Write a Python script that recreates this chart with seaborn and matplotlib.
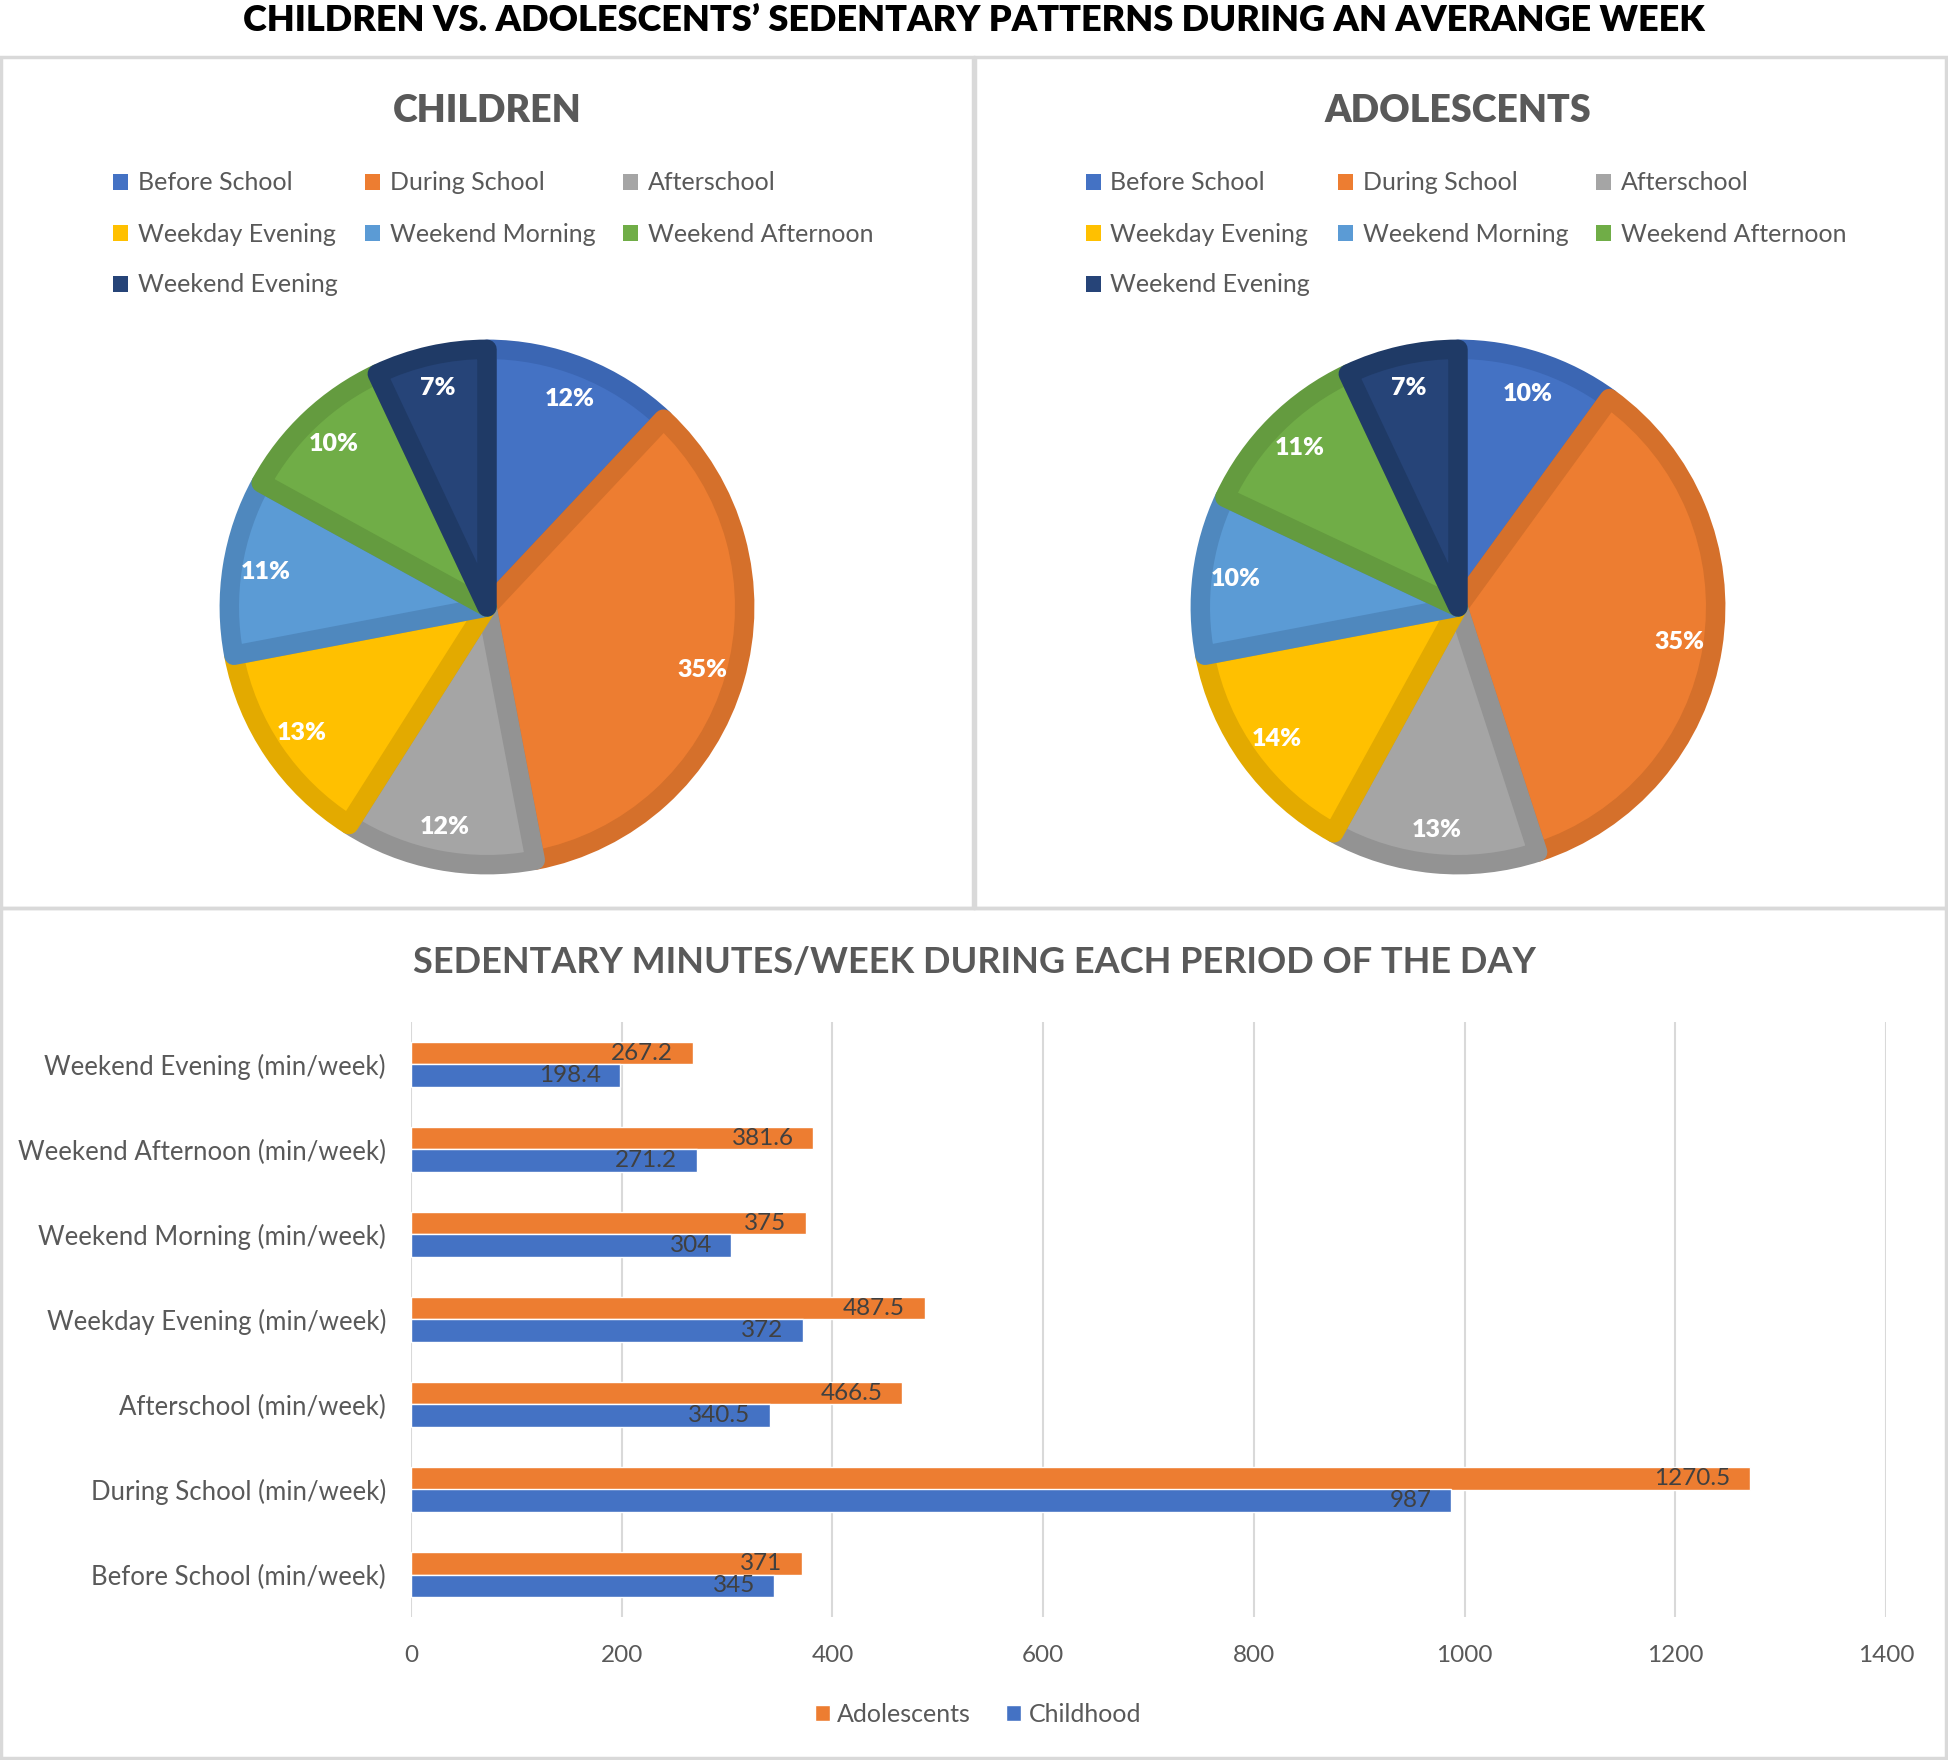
import matplotlib

matplotlib.use("Agg")
import matplotlib.pyplot as plt
import pandas as pd
import seaborn as sns
from matplotlib.patches import Patch, Rectangle

# data
periods = [
    "Before School",
    "During School",
    "Afterschool",
    "Weekday Evening",
    "Weekend Morning",
    "Weekend Afternoon",
    "Weekend Evening",
]
children_pct = [12, 35, 12, 13, 11, 10, 7]
adolescents_pct = [10, 35, 13, 14, 10, 11, 7]
childhood_minutes = [345, 987, 340.5, 372, 304, 271.2, 198.4]
adolescents_minutes = [371, 1270.5, 466.5, 487.5, 375, 381.6, 267.2]
groups = ["Adolescents", "Childhood"]
x_ticks = [0, 200, 400, 600, 800, 1000, 1200, 1400]

slice_colors = ["#4472C4", "#ED7D31", "#A5A5A5", "#FFC000", "#5B9BD5", "#70AD47", "#264478"]
slice_edges = ["#3B66B3", "#D5702B", "#939393", "#E3AA00", "#4F88BE", "#649B3F", "#1F3A66"]
group_colors = {"Adolescents": "#ED7D31", "Childhood": "#4472C4"}
text_grey = "#595959"

sns.set_theme(style="white")
plt.rcParams["font.family"] = ["Lato", "DejaVu Sans"]

W, H = 1948, 1760
fig = plt.figure(figsize=(W / 100, H / 100), dpi=100)

# panel frames
for x0, y0, x1, y1 in [(1, 57, 973, 908), (975, 57, 1946, 908), (1, 908, 1946, 1758)]:
    fig.patches.append(Rectangle((x0 / W, 1 - y1 / H), (x1 - x0) / W, (y1 - y0) / H,
                                 transform=fig.transFigure, fill=False,
                                 edgecolor="#D9D9D9", linewidth=2.5))

fig.text(0.5, 1 - 31 / H, "CHILDREN VS. ADOLESCENTS’ SEDENTARY PATTERNS DURING AN AVERANGE WEEK",
         ha="center", va="baseline", fontsize=26, fontweight="heavy", color="black")


def draw_pie(cx, title, values, legend_x):
    r = 268
    ax = fig.add_axes([(cx - r) / W, 1 - (607 + r) / H, 2 * r / W, 2 * r / H])
    wedges, _, autotexts = ax.pie(values, colors=slice_colors, startangle=90, counterclock=False,
                                  autopct="%.0f%%", pctdistance=0.87,
                                  textprops=dict(color="white", fontsize=18, fontweight="heavy"))
    # border drawn inside each slice, like the office style
    for wedge, edge in zip(wedges, slice_edges):
        wedge.set_edgecolor(edge)
        wedge.set_linewidth(14)
        wedge.set_joinstyle("round")
        wedge.set_clip_path(wedge.get_path(), wedge.get_transform())
    ax.set_xlim(-1.04, 1.04)
    ax.set_ylim(-1.04, 1.04)
    ax.set_aspect("equal")
    ax.axis("off")
    fig.text(cx / W, 1 - 111 / H, title, ha="center", va="center",
             fontsize=27, fontweight="heavy", color=text_grey)
    order = [0, 3, 6, 1, 4, 2, 5]
    handles = [Patch(facecolor=slice_colors[i], edgecolor="none") for i in order]
    labels = [periods[i] for i in order]
    fig.legend(handles, labels, ncol=3, loc="upper left",
               bbox_to_anchor=(legend_x / W, 1 - 159 / H), frameon=False,
               fontsize=18, labelcolor=text_grey, handlelength=0.6, handleheight=0.6,
               handletextpad=0.4, columnspacing=1.1, labelspacing=1.12, borderpad=0)


draw_pie(487, "CHILDREN", children_pct, 100)
draw_pie(1458, "ADOLESCENTS", adolescents_pct, 1073)

# bar chart
labels_top_down = [f"{p} (min/week)" for p in periods][::-1]
bars = pd.DataFrame({
    "period": [f"{p} (min/week)" for p in periods] * 2,
    "minutes": adolescents_minutes + childhood_minutes,
    "group": ["Adolescents"] * len(periods) + ["Childhood"] * len(periods),
})

ax = fig.add_axes([411 / W, 1 - 1617 / H, (1886 - 411) / W, (1617 - 1022) / H])
sns.barplot(data=bars, x="minutes", y="period", hue="group", order=labels_top_down,
            hue_order=groups, palette=group_colors, orient="h", width=0.54, gap=0,
            saturation=1, legend=False, ax=ax)
for container in ax.containers:
    for t in ax.bar_label(container, fmt="%g", padding=-14, fontsize=17.5, color="#404040"):
        t.set_ha("right")

ax.set_xlim(0, 1400)
ax.set_xticks(x_ticks)
ax.grid(axis="x", color="#D9D9D9", linewidth=1.5)
ax.set_axisbelow(True)
for side in ["top", "right", "bottom", "left"]:
    ax.spines[side].set_visible(False)
ax.set_xlabel("")
ax.set_ylabel("")
ax.tick_params(axis="x", length=0, pad=20, labelsize=17.5, labelcolor=text_grey)
ax.tick_params(axis="y", length=0, pad=18, labelsize=18.5, labelcolor=text_grey)

fig.text(0.5, 1 - 962 / H, "SEDENTARY MINUTES/WEEK DURING EACH PERIOD OF THE DAY",
         ha="center", va="center", fontsize=26, fontweight="bold", color=text_grey)
fig.legend([Patch(facecolor=group_colors[g]) for g in groups], groups, ncol=2,
           loc="center", bbox_to_anchor=(978 / W, 1 - 1714 / H), frameon=False,
           fontsize=18, labelcolor=text_grey, handlelength=0.6, handleheight=0.6,
           handletextpad=0.3, columnspacing=1.4)

fig.savefig("out.png", dpi=100)
